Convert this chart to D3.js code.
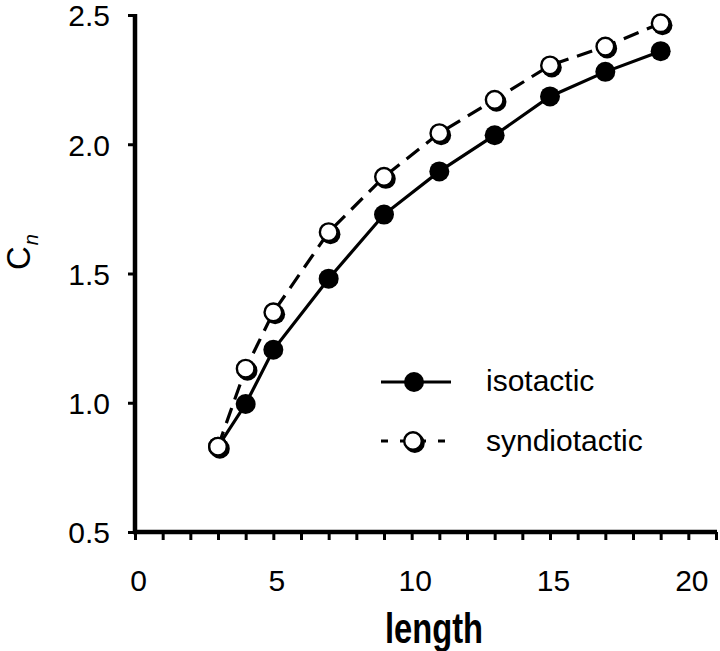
<!DOCTYPE html>
<html>
<head>
<meta charset="utf-8">
<script src="https://cdn.jsdelivr.net/npm/d3@7"></script>
<style>
  html, body { margin: 0; padding: 0; background: #fff; }
  svg { display: block; }
  text { font-family: "Liberation Sans", Arial, Helvetica, sans-serif; fill: #000; }
</style>
</head>
<body>
<svg id="chart" width="720" height="651"></svg>
<script>
// ---- data ----
const lengths = [3, 4, 5, 7, 9, 11, 13, 15, 17, 19];
const isotactic = [0.83, 0.995, 1.205, 1.48, 1.728, 1.895, 2.035, 2.185, 2.28, 2.36];
const syndiotactic = [0.83, 1.132, 1.35, 1.66, 1.874, 2.043, 2.172, 2.305, 2.378, 2.468];
const xTicks = d3.range(0, 22);
const xTickLabels = [0, 5, 10, 15, 20];
const yTicks = [0.5, 1.0, 1.5, 2.0, 2.5];
const seriesNames = ["isotactic", "syndiotactic"];

const svg = d3.select("#chart");
const x = d3.scaleLinear().domain([0, 21]).range([135, 716]);
const y = d3.scaleLinear().domain([0.5, 2.5]).range([532, 15]);

// ---- axes ----
const xAxis = d3.axisBottom(x)
  .tickValues(xTicks)
  .tickSizeInner(8).tickSizeOuter(0).tickPadding(30)
  .tickFormat(d => xTickLabels.includes(d) ? String(d) : "");
const gx = svg.append("g").attr("transform", `translate(0,${y(0.5)})`).call(xAxis);
gx.select(".domain").attr("stroke", "#000").attr("stroke-width", 4.5)
  .attr("d", `M${x(0) - 2},0H${x(21) + 1}`);
gx.selectAll(".tick line").attr("stroke", "#000").attr("stroke-width", 3);
gx.selectAll(".tick text").attr("font-size", 30).attr("dx", 3)
  .style("font-family", '"Liberation Sans", Arial, sans-serif');

const yAxis = d3.axisLeft(y)
  .tickValues(yTicks)
  .tickSizeInner(7).tickSizeOuter(0).tickPadding(18)
  .tickFormat(d3.format(".1f"));
const gy = svg.append("g").attr("transform", `translate(${x(0)},0)`).call(yAxis);
gy.select(".domain").attr("stroke", "#000").attr("stroke-width", 4.5)
  .attr("d", `M0,${y(2.5) - 1}V${y(0.5) + 2}`);
gy.selectAll(".tick line").attr("stroke", "#000").attr("stroke-width", 3);
gy.selectAll(".tick text").attr("font-size", 30).attr("dy", "0.36em")
  .style("font-family", '"Liberation Sans", Arial, sans-serif');

// axis titles
svg.append("text")
  .attr("x", 385).attr("y", 643)
  .attr("font-size", 42).attr("font-weight", "bold")
  .attr("textLength", 98).attr("lengthAdjust", "spacingAndGlyphs")
  .text("length");

const cn = svg.append("text")
  .attr("transform", "translate(30,270) rotate(-90)")
  .attr("font-size", 33);
cn.append("tspan").text("C");
cn.append("tspan").attr("font-size", 20).attr("font-style", "italic")
  .attr("dx", 1).attr("dy", 8).text("n");

// ---- lines ----
const isoData = lengths.map((l, i) => [l, isotactic[i]]);
const synData = lengths.map((l, i) => [l, syndiotactic[i]]);
const line = d3.line().x(d => x(d[0])).y(d => y(d[1]));

svg.append("path").datum(synData).attr("d", line)
  .attr("fill", "none").attr("stroke", "#000").attr("stroke-width", 3.2)
  .attr("stroke-dasharray", "16,9");
svg.append("path").datum(isoData).attr("d", line)
  .attr("fill", "none").attr("stroke", "#000").attr("stroke-width", 3.2);

// ---- markers ----
function filledMarker(g, cx, cy) {
  g.append("circle").attr("cx", cx).attr("cy", cy).attr("r", 10).attr("fill", "#000");
}
function openMarker(g, cx, cy) {
  g.append("circle").attr("cx", cx + 1.8).attr("cy", cy + 2).attr("r", 10).attr("fill", "#000");
  g.append("circle").attr("cx", cx).attr("cy", cy).attr("r", 8.8)
    .attr("fill", "#fff").attr("stroke", "#000").attr("stroke-width", 2.4);
}
const mk = svg.append("g");
isoData.forEach(d => filledMarker(mk, x(d[0]), y(d[1])));
synData.forEach(d => openMarker(mk, x(d[0]), y(d[1])));

// ---- legend ----
const lg = svg.append("g");
lg.append("line").attr("x1", 381).attr("x2", 451).attr("y1", 382).attr("y2", 382)
  .attr("stroke", "#000").attr("stroke-width", 3.2);
filledMarker(lg, 414, 382);
lg.append("text").attr("x", 486).attr("y", 391).attr("font-size", 30).text(seriesNames[0]);

lg.append("line").attr("x1", 381).attr("x2", 447).attr("y1", 441).attr("y2", 441)
  .attr("stroke", "#000").attr("stroke-width", 3.2).attr("stroke-dasharray", "7,12");
openMarker(lg, 413, 441);
lg.append("text").attr("x", 486).attr("y", 451).attr("font-size", 30).text(seriesNames[1]);
</script>
</body>
</html>
